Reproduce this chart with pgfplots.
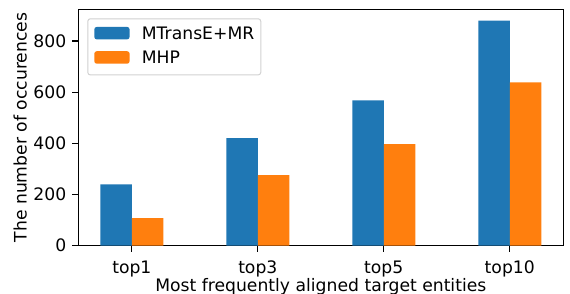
\documentclass[border=0pt]{standalone}
\usepackage{fontspec}
\setmainfont{DejaVu Sans}
\usepackage{pgfplots}
\pgfplotsset{compat=1.18}
\definecolor{mblue}{HTML}{1F77B4}
\definecolor{morange}{HTML}{FF7F0E}
\begin{document}
\begin{tikzpicture}
\begin{axis}[
  at={(0,0)}, anchor=south west,
  scale only axis, width=485pt, height=236.4pt,
  xmin=-0.425, xmax=3.425, ymin=0, ymax=924,
  xtick={0,1,2,3}, xticklabels={top1,top3,top5,top10},
  ytick={0,200,400,600,800},
  xtick pos=bottom, ytick pos=left,
  tick align=outside, major tick length=5.9pt,
  every tick/.style={line width=1.2pt, black},
  axis line style={line width=1.2pt},
  font=\fontsize{17.2}{20}\selectfont,
  /pgf/number format/assume math mode=true,
  yticklabel style={inner sep=0pt, anchor=east, xshift=-5.9pt},
  xticklabel style={inner sep=0pt, anchor=base, yshift=-22pt},
  xlabel={Most frequently aligned target entities},
  ylabel={The number of occurences},
  xlabel style={at={(axis description cs:0.5,-0.1937)}, anchor=base, inner sep=0pt},
  ylabel style={at={(axis description cs:-0.1064,0.5)}, anchor=base, rotate=0, inner sep=0pt},
  legend style={at={(0,1)}, anchor=north west, xshift=9pt, yshift=-9pt,
    draw=black!18, line width=1pt, rounded corners=2.5pt, fill=white,
    inner xsep=6.5pt, inner ysep=8pt, row sep=8.5pt, column sep=12.3pt,
    nodes={inner sep=0pt, text height=12.5pt, text depth=3.3pt,
      font=\fontsize{17.2}{20}\selectfont}},
  legend cell align=left,
  legend image code/.code={\fill[#1] (0pt,-4.7pt) rectangle (35.3pt,7.8pt);},
]
\addplot[ybar, bar width=0.25, bar shift=-0.125, fill=mblue, draw=none]
  coordinates {(0,240) (1,420) (2,568) (3,880)};
\addlegendentry{MTransE+MR}
\addplot[ybar, bar width=0.25, bar shift=0.125, fill=morange, draw=none]
  coordinates {(0,108) (1,276) (2,397) (3,638)};
\addlegendentry{MHP}
\end{axis}
\pgfresetboundingbox
\path[use as bounding box] (-78.3pt,-48.3pt) rectangle (491.7pt,245.7pt);
\end{tikzpicture}
\end{document}
